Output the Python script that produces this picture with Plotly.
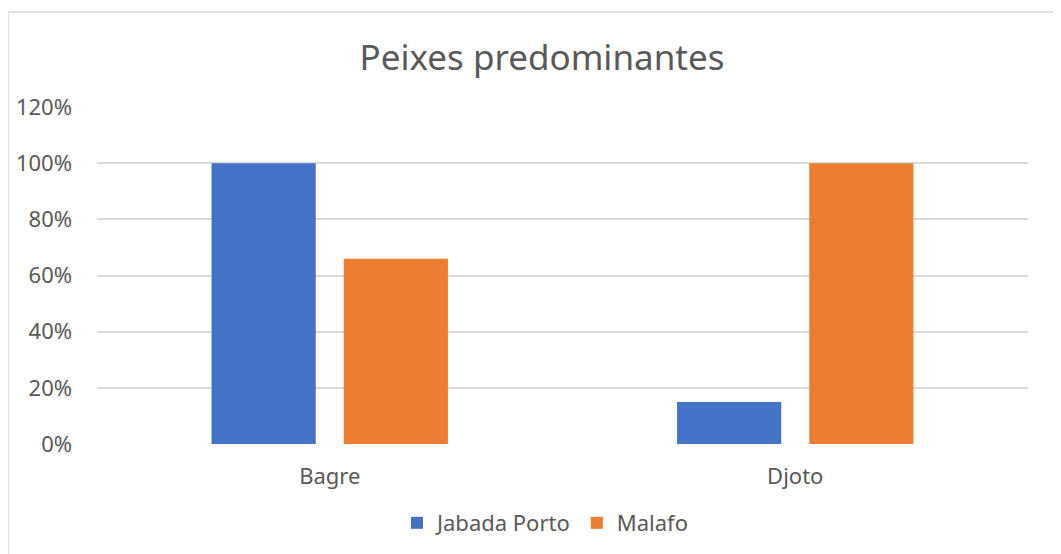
import plotly.graph_objects as go

categories = ["Bagre", "Djoto"]
jabada_porto = [1.00, 0.15]
malafo = [0.66, 1.00]
tick_vals = [0, 0.2, 0.4, 0.6, 0.8, 1.0, 1.2]
tick_text = ["0%", "20%", "40%", "60%", "80%", "100%", "120%"]

FONT = "Noto Sans"
GREY = "#595959"
OFF = 8  # page body offset

L, R_EDGE, T, B_EDGE = 97, 1028, 107, 444
PW, PH = R_EDGE - L, B_EDGE - T

fig = go.Figure()
fig.add_trace(go.Bar(name="Jabada Porto", x=categories, y=jabada_porto,
                     marker=dict(color="#4472C4", line=dict(width=0))))
fig.add_trace(go.Bar(name="Malafo", x=categories, y=malafo,
                     marker=dict(color="#ED7D31", line=dict(width=0))))

fig.update_layout(
    width=1061, height=554,
    margin=dict(l=L - OFF, r=1061 - (R_EDGE - OFF), t=T - OFF, b=554 - (B_EDGE - OFF),
                autoexpand=False),
    paper_bgcolor="white", plot_bgcolor="white",
    barmode="group", bargap=0.432, bargroupgap=0.212,
    title=dict(text="Peixes predominantes", x=(542 - OFF) / 1061, xanchor="center",
               y=1 - (58 - OFF) / 554, yanchor="middle",
               font=dict(family=FONT, size=35, color=GREY)),
    font=dict(family=FONT, size=22, color=GREY),
    showlegend=True,
    legend=dict(orientation="h", x=(545 - L) / PW, xanchor="center",
                y=-(523 - B_EDGE) / PH, yanchor="middle",
                font=dict(family=FONT, size=22, color=GREY),
                itemwidth=30, traceorder="normal"),
    shapes=[dict(type="rect", xref="paper", yref="paper",
                 x0=-(L - 8) / PW, x1=1.2, y0=-0.5, y1=1 + (T - 12) / PH,
                 line=dict(color="#D9D9D9", width=1.5), layer="below")],
)
fig.update_xaxes(showgrid=False, showline=False, ticks="", zeroline=False,
                 ticklabelstandoff=17,
                 tickfont=dict(family=FONT, size=22, color=GREY))
fig.update_yaxes(range=[0, 1.2005], tickvals=tick_vals, ticktext=tick_text,
                 showgrid=True, gridcolor="#D9D9D9", gridwidth=1.5,
                 zeroline=False, showline=False, ticks="", ticklabelstandoff=24,
                 tickfont=dict(family=FONT, size=22, color=GREY))

fig.write_html("out.html")
